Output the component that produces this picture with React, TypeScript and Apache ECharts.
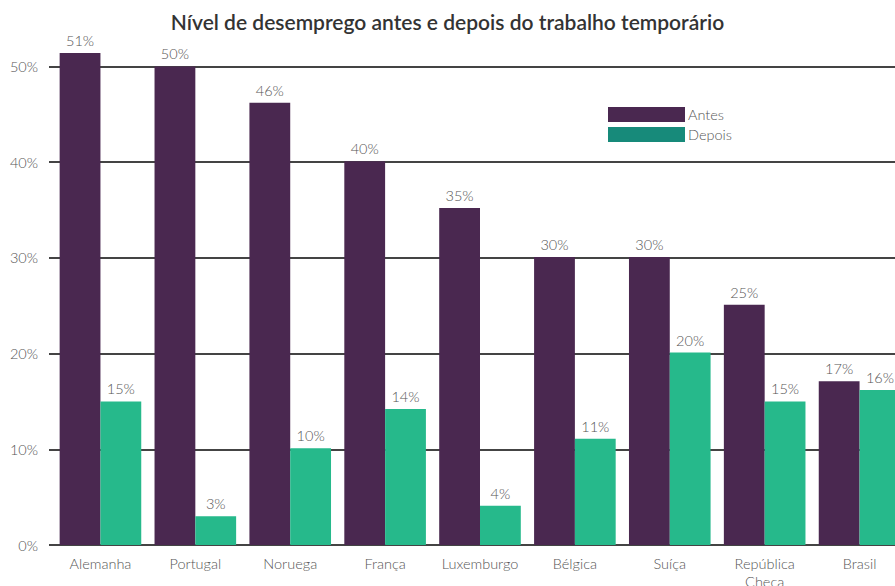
import React, { useEffect, useRef } from "react";
import * as echarts from "echarts";

const categories = ["Alemanha", "Portugal", "Noruega", "França", "Luxemburgo", "Bélgica", "Suíça", "República\nCheca", "Brasil"];
const antes = [51.4, 50.0, 46.2, 40.1, 35.2, 30.1, 30.1, 25.1, 17.1];
const depois = [15.0, 3.0, 10.1, 14.2, 4.1, 11.1, 20.1, 15.0, 16.2];
const seriesNames = ["Antes", "Depois"];
const titleText = "Nível de desemprego antes e depois do trabalho temporário";

export default function App() {
  const ref = useRef<HTMLDivElement>(null);
  useEffect(() => {
    if (!ref.current) return;
    const chart = echarts.init(ref.current, undefined, { renderer: "svg" });
    const font = "Lato, 'Noto Sans', sans-serif";
    const textColor = "#555";
    const labelStyle = {
      show: true,
      position: "top" as const,
      distance: 5,
      color: textColor,
      fontSize: 14.5,
      fontWeight: 300,
      fontFamily: font,
      formatter: (p: any) => Math.round(p.value) + "%",
    };
    chart.setOption({
      animation: false,
      title: {
        text: titleText,
        left: "center",
        top: 6,
        textStyle: { fontFamily: font, fontWeight: 600, fontSize: 21, color: "#333" },
      },
      legend: {
        orient: "vertical",
        left: 603,
        top: 102,
        itemWidth: 77,
        itemHeight: 15,
        itemGap: 5,
        icon: "rect",
        textStyle: { fontFamily: font, fontSize: 14.5, fontWeight: 300, color: textColor, padding: [0, 0, 0, -2] },
        data: [
          { name: seriesNames[0], itemStyle: { color: "#4a2850" } },
          { name: seriesNames[1], itemStyle: { color: "#178a7a" } },
        ],
      },
      grid: { left: 53, width: 854, top: 18.6, height: 526.4, containLabel: false, outerBoundsMode: "none" },
      xAxis: {
        type: "category",
        data: categories,
        axisLine: { show: true, lineStyle: { color: "#444", width: 2 } },
        axisTick: { show: false },
        axisLabel: { color: textColor, fontSize: 14.5, fontWeight: 300, fontFamily: font, margin: 9, lineHeight: 18, interval: 0 },
      },
      yAxis: {
        type: "value",
        min: 0,
        max: 55,
        interval: 10,
        axisLine: { show: false },
        axisTick: { show: true, length: 4, lineStyle: { color: "#444", width: 2 } },
        splitLine: { show: true, showMaxLine: false, lineStyle: { color: "#444", width: 2 } },
        axisLabel: {
          color: textColor,
          fontSize: 14.5,
          fontWeight: 300,
          fontFamily: font,
          margin: 15,
          showMaxLabel: false,
          formatter: (v: number) => (v > 50 ? "" : v + "%"),
        },
      },
      series: [
        {
          name: seriesNames[0],
          type: "bar",
          data: antes,
          barGap: "0%",
          barCategoryGap: "14%",
          itemStyle: { color: "#4a2850" },
          label: labelStyle,
        },
        {
          name: seriesNames[1],
          type: "bar",
          data: depois,
          barGap: "0%",
          barCategoryGap: "14%",
          itemStyle: { color: "#26b98b" },
          label: labelStyle,
        },
      ],
    });
    return () => chart.dispose();
  }, []);
  return (
    <div
      ref={ref}
      style={{ position: "fixed", left: 0, top: 0, width: 895, height: 586, background: "#fff" }}
    />
  );
}
